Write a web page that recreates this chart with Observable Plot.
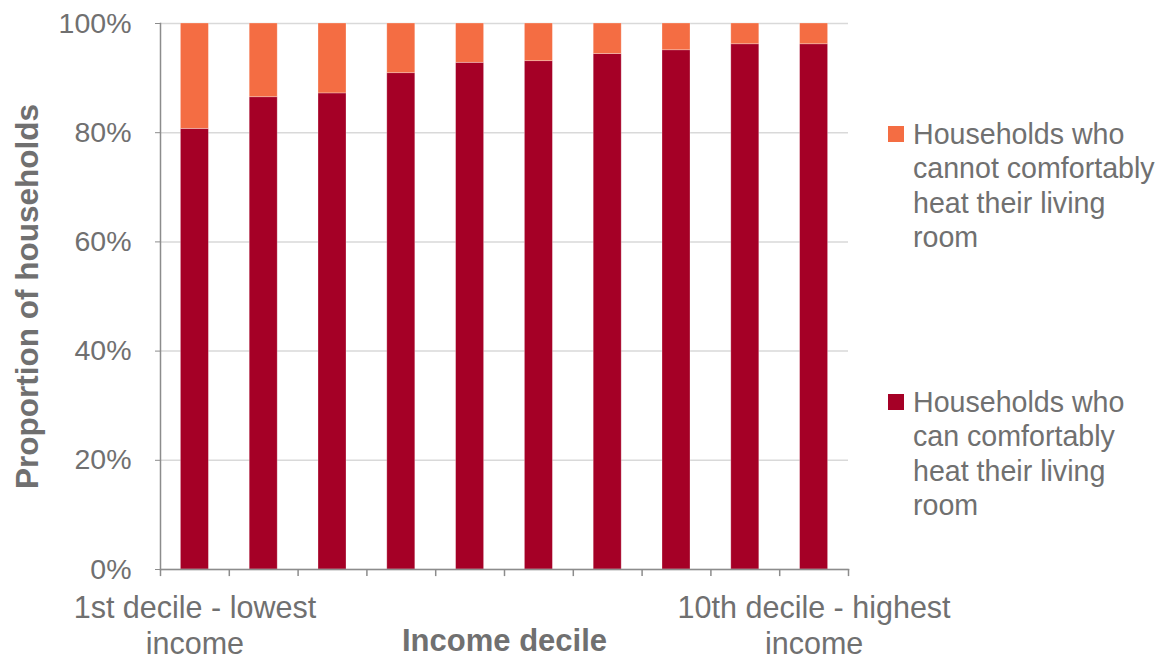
<!DOCTYPE html>
<html>
<head>
<meta charset="utf-8">
<script src="https://cdn.jsdelivr.net/npm/d3@7"></script>
<script src="https://cdn.jsdelivr.net/npm/@observablehq/plot@0.6"></script>
<style>
  body { margin: 0; background: #fff; }
  #wrap { position: relative; width: 1165px; height: 658px; font-family: "Liberation Sans", Arial, sans-serif; }
  .item { position: absolute; left: 888px; color: #707070; font-size: 28.6px; line-height: 34.3px; white-space: nowrap; }
  .sw { position: absolute; left: 0; width: 16px; height: 16px; }
  .lab { position: absolute; left: 25px; top: 0; }
</style>
</head>
<body>
<div id="wrap"></div>
<script>
// ---- data ----
const deciles = ["1", "2", "3", "4", "5", "6", "7", "8", "9", "10"];
const tickLabels = ["1st decile - lowest\nincome", "", "", "", "", "", "", "", "", "10th decile - highest\nincome"];
const seriesNames = [
  "Households who can comfortably heat their living room",
  "Households who cannot comfortably heat their living room"
];
const canHeat = [80.7, 86.5, 87.2, 90.9, 92.8, 93.1, 94.4, 95.1, 96.2, 96.2];
const cannotHeat = [19.3, 13.5, 12.8, 9.1, 7.2, 6.9, 5.6, 4.9, 3.8, 3.8];
const seriesColors = ["#a50026", "#f46d43"];
const yTicks = [0, 20, 40, 60, 80, 100];
const legendOrder = [1, 0];
const legendLines = [
  ["Households who", "can comfortably", "heat their living", "room"],
  ["Households who", "cannot comfortably", "heat their living", "room"]
];
const xTitle = "Income decile";
const yTitle = "Proportion of households";

// ---- table ----
const table = [];
deciles.forEach((d, i) => {
  table.push({decile: d, series: seriesNames[0], value: canHeat[i]});
  table.push({decile: d, series: seriesNames[1], value: cannotHeat[i]});
});

const axisColor = "#8c8c8c";
const textColor = "#707070";

const chart = Plot.plot({
  width: 1165,
  height: 658,
  marginLeft: 160,
  marginRight: 317,
  marginTop: 23,
  marginBottom: 89,
  style: {fontFamily: "'Liberation Sans', Arial, sans-serif", color: textColor, background: "#fff", overflow: "visible"},
  x: {domain: deciles, paddingInner: 0.593, paddingOuter: 0.2965, round: false, axis: null},
  y: {domain: [0, 100], axis: null},
  color: {domain: seriesNames, range: seriesColors},
  marks: [
    Plot.gridY(yTicks, {stroke: "#d9d9d9", strokeOpacity: 1, strokeWidth: 1.5}),
    Plot.barY(table, Plot.stackY({x: "decile", y: "value", fill: "series", order: seriesNames, stroke: "#fff", strokeOpacity: 0.35, strokeWidth: 0.8})),
    Plot.axisY(yTicks, {tickFormat: d => d + "%", tickSize: 5, tickPadding: 24, fontSize: 28.5, stroke: axisColor, fill: textColor, label: null}),
    Plot.frame({anchor: "left", stroke: axisColor, strokeWidth: 1.5}),
    Plot.frame({anchor: "bottom", stroke: axisColor, strokeWidth: 1.5}),
    Plot.ruleX(deciles, {x: d => d, y1: 0, y2: -1.3, dx: -34.4, stroke: axisColor, strokeWidth: 1.5}),
    Plot.ruleX(deciles.slice(-1), {x: d => d, y1: 0, y2: -1.3, dx: 34.4, stroke: axisColor, strokeWidth: 1.5}),
    Plot.text(deciles, {x: d => d, frameAnchor: "bottom", text: (d, i) => tickLabels[i], lineAnchor: "top", dy: 23, fontSize: 30.5, lineHeight: 1.17, fill: textColor}),
    Plot.text([xTitle], {frameAnchor: "bottom", lineAnchor: "middle", dy: 72, fontSize: 31, fontWeight: "bold", fill: textColor}),
    Plot.text([yTitle], {frameAnchor: "left", dx: -133, rotate: -90, textAnchor: "middle", lineAnchor: "middle", fontSize: 31.5, fontWeight: "bold", fill: textColor})
  ]
});

const wrap = document.getElementById("wrap");
wrap.appendChild(chart);

// ---- legend (right side) ----
const legendTops = [117, 385];
legendOrder.forEach((si, k) => {
  const item = document.createElement("div");
  item.className = "item";
  item.style.top = legendTops[k] + "px";
  const sw = document.createElement("div");
  sw.className = "sw";
  sw.style.background = seriesColors[si];
  sw.style.top = "9px";
  item.appendChild(sw);
  const lab = document.createElement("div");
  lab.className = "lab";
  lab.innerHTML = legendLines[si].join("<br>");
  item.appendChild(lab);
  wrap.appendChild(item);
});
</script>
</body>
</html>
